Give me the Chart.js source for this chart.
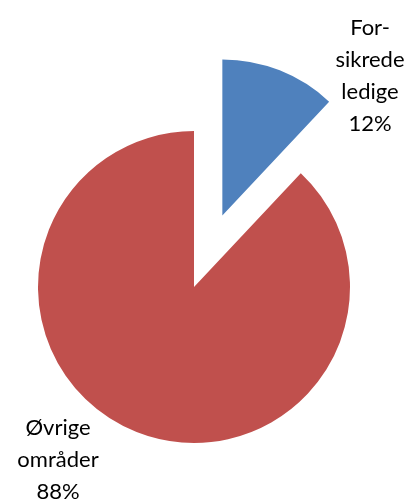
<!DOCTYPE html>
<html lang="no">
<head>
<meta charset="UTF-8">
<title>Forsikrede ledige</title>
<script src="https://cdn.jsdelivr.net/npm/chart.js@4"></script>
<style>
html,body{margin:0;padding:0;background:#fff}
#wrap{width:411px;height:499px;position:relative}
</style>
</head>
<body>
<div id="wrap"><canvas id="pie"></canvas></div>
<script>
// data
const CATEGORIES=["Forsikrede ledige","Øvrige områder"];
const VALUES=[12,88];
const COLORS=["#4F81BD","#C0504D"];
const LABEL_LINES=[["For-","sikrede","ledige"],["Øvrige","områder"]];

// look
const RADIUS=156, EXPLODE=[77,0];
const LABEL_AT=[{x:370,y:35},{x:58,y:435}], LINE_H=32;
const FONT="22px Lato";

// shift exploded slice along its bisector
const explodePlugin={
  id:"explode",
  afterDatasetsUpdate(chart){
    chart.getDatasetMeta(0).data.forEach((arc,i)=>{
      const d=EXPLODE[i]||0;
      if(!d) return;
      const mid=(arc.startAngle+arc.endAngle)/2;
      arc.x+=Math.cos(mid)*d;
      arc.y+=Math.sin(mid)*d;
    });
  }
};

const labelPlugin={
  id:"pieLabels",
  afterDraw(chart){
    const ctx=chart.ctx;
    ctx.save();
    ctx.font=FONT;ctx.fillStyle="#000";ctx.textAlign="center";ctx.textBaseline="alphabetic";
    LABEL_LINES.forEach((lines,i)=>{
      const all=[...lines,VALUES[i]+"%"];
      all.forEach((t,j)=>ctx.fillText(t,LABEL_AT[i].x,LABEL_AT[i].y+j*LINE_H));
    });
    ctx.restore();
  }
};

new Chart(document.getElementById("pie"),{
  type:"pie",
  data:{labels:CATEGORIES,datasets:[{
    data:VALUES,backgroundColor:COLORS,borderWidth:0,radius:RADIUS,hoverOffset:0
  }]},
  options:{
    responsive:true,maintainAspectRatio:false,animation:false,
    layout:{padding:{left:0,right:23,top:75,bottom:0}},
    plugins:{legend:{display:false},tooltip:{enabled:false}},
    events:[]
  },
  plugins:[explodePlugin,labelPlugin]
});
</script>
</body>
</html>
